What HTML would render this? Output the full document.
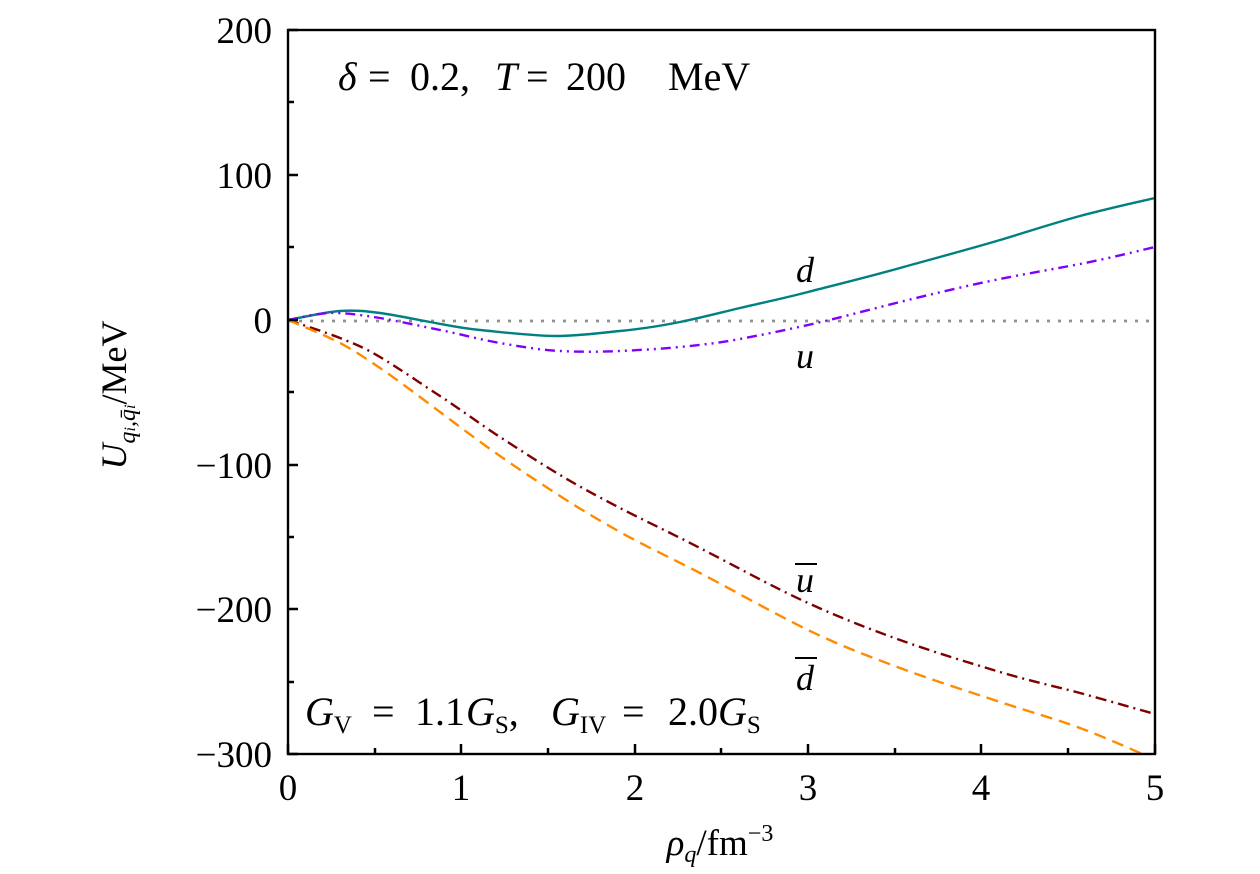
<!DOCTYPE html>
<html><head><meta charset="utf-8"><style>
html,body{margin:0;padding:0;background:#fff;}
svg{display:block;}
text{font-family:"Liberation Serif",serif;fill:#000;}
</style></head><body>
<svg width="1260" height="874" viewBox="0 0 1260 874" xmlns="http://www.w3.org/2000/svg">
<defs><clipPath id="c"><rect x="288" y="30" width="867" height="724"/></clipPath></defs>
<g clip-path="url(#c)" fill="none" stroke-width="2.4">
<line x1="288" y1="321" x2="1155" y2="321" stroke="#909090" stroke-dasharray="3,8" stroke-width="2.8"/>
<path stroke="#008080" d="M288,320 C297,318.5 325,312 340,311 S365,311 380,313 S413,319 430,322 S459,328 480,330 S533,336 556,336 S599,333 620,331 S660,326 680,322 S719,313 740,308 S781,299 808,292 S868,277 900,268 S970,249 1000,240 S1054,223 1080,216 S1142,201 1155,198"/>
<path stroke="#7f00ff" stroke-dasharray="10,5,2,5,2,5" d="M288,320 C295,319 315,313.3 330,313 S362,315 380,318 S420,326 440,330 S480,339.5 500,343 S540,350 560,351 S600,352 620,351 S660,349 680,347 S719,343 740,339 S781,331 808,325 S868,310 900,302 S970,285 1000,279 S1054,269 1080,264 S1142,250 1155,247"/>
<path stroke="#800000" stroke-dasharray="11,5,2,5" d="M288,320 C297,323 325,332 340,338 S363,347 380,357 S420,383 440,396 S480,424 500,437 S540,463 560,475 S597,496 620,508 S669,532 700,548 S775,588 808,603 S868,628.5 900,640 S970,663 1000,672 S1054,686 1080,693 S1142,710.5 1155,714"/>
<path stroke="#ff8c00" stroke-dasharray="12,7" d="M288,320 C297,324 325,335 340,343 S363,356.5 380,368 S420,397 440,412 S480,442 500,456 S540,483 560,496 S597,519 620,532 S669,557 700,573 S775,614 808,630 S868,656 900,668 S970,692 1000,702 S1053,718 1080,728 S1147,756 1160,762"/>
</g>
<g stroke="#000" stroke-width="2.5" fill="none">
<rect x="288" y="30" width="867" height="724" stroke-width="2.4"/>
<path d="M288,30h10M288,175h10M288,320h10M288,465h10M288,609h10M288,754h10
M288,102h6M288,247h6M288,392h6M288,537h6M288,682h6
M288,754v-10M461,754v-10M635,754v-10M808,754v-10M981,754v-10M1155,754v-10
M375,754v-6M548,754v-6M721,754v-6M895,754v-6M1068,754v-6"/>
</g>
<g font-size="37" text-anchor="end">
<text x="272" y="43">200</text>
<text x="272" y="188">100</text>
<text x="272" y="333">0</text>
<text x="272" y="478">−100</text>
<text x="272" y="622">−200</text>
<text x="272" y="767">−300</text>
</g>
<g font-size="37" text-anchor="middle">
<text x="288" y="800">0</text><text x="461" y="800">1</text><text x="635" y="800">2</text>
<text x="808" y="800">3</text><text x="981" y="800">4</text><text x="1155" y="800">5</text>
<text x="720" y="855"><tspan font-style="italic">ρ</tspan><tspan font-style="italic" font-size="24" dy="7">q</tspan><tspan dy="-7">/fm</tspan><tspan font-size="24" dy="-14">−3</tspan></text>
</g>
<text font-size="36" transform="translate(126,395) rotate(-90)" text-anchor="middle"><tspan font-style="italic">U</tspan><tspan font-style="italic" font-size="24" dy="9">q<tspan font-size="16">i</tspan>,q̄<tspan font-size="16">i</tspan></tspan><tspan dy="-9">/MeV</tspan></text>
<text y="90" font-size="40"><tspan x="338" font-style="italic">δ</tspan><tspan x="368">=</tspan><tspan x="410">0.2,</tspan><tspan x="495" font-style="italic">T</tspan><tspan x="526">=</tspan><tspan x="566">200</tspan><tspan x="668">MeV</tspan></text>
<text y="725" font-size="40"><tspan x="305" font-style="italic">G</tspan><tspan font-size="25" dy="8">V</tspan><tspan x="372" dy="-8">=</tspan><tspan x="415">1.1</tspan><tspan x="466" font-style="italic">G</tspan><tspan font-size="25" dy="8">S</tspan><tspan dy="-8">,</tspan><tspan x="551" font-style="italic">G</tspan><tspan font-size="25" dy="8">IV</tspan><tspan x="622" dy="-8">=</tspan><tspan x="668">2.0</tspan><tspan x="718" font-style="italic">G</tspan><tspan font-size="25" dy="8">S</tspan></text>
<g font-size="36" font-style="italic">
<text x="796" y="282">d</text>
<text x="796" y="368">u</text>
<text x="796" y="592">u</text>
<text x="796" y="690">d</text>
</g>
<g stroke="#000" stroke-width="2"><line x1="795" y1="564" x2="817" y2="564"/><line x1="795" y1="658" x2="817" y2="658"/></g>
</svg>
</body></html>
